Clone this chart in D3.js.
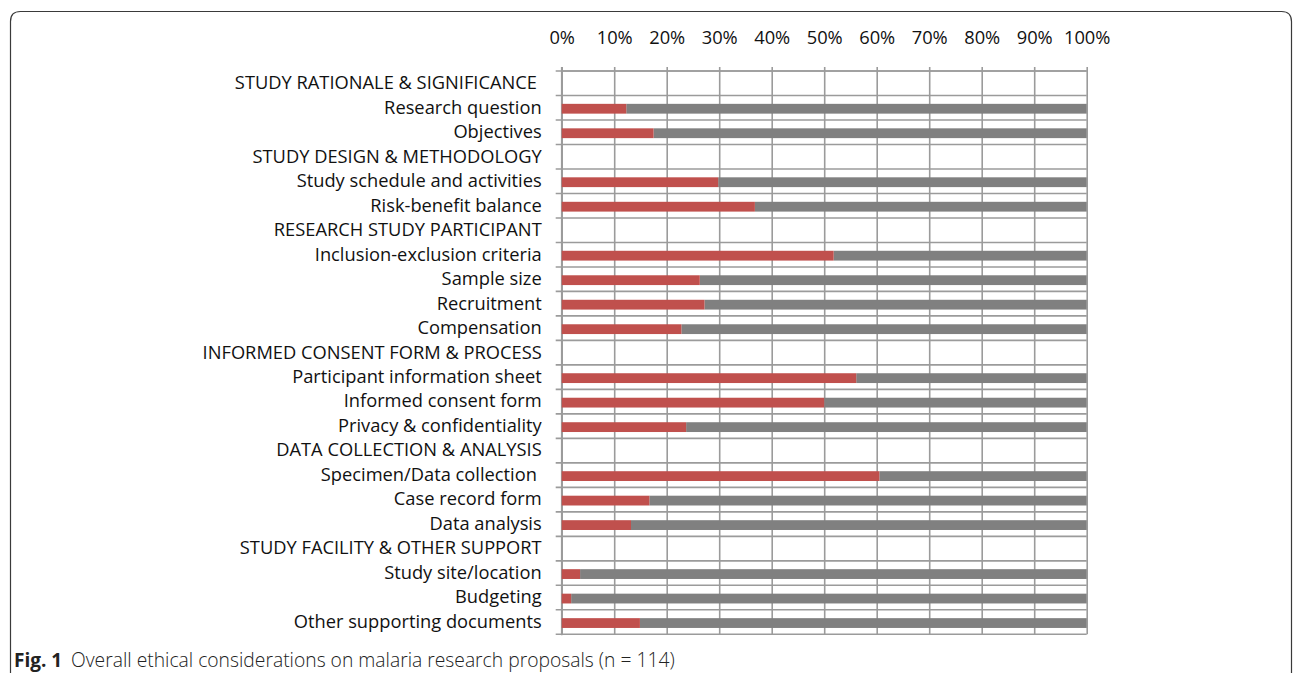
<!DOCTYPE html>
<html><head><meta charset="utf-8">
<script src="https://cdn.jsdelivr.net/npm/d3@7"></script>
<style>
html,body{margin:0;padding:0;background:#fff;}
svg{display:block;}
</style></head>
<body>
<svg id="chart" width="1293" height="673"></svg>
<script>
const categories = [
  "STUDY RATIONALE & SIGNIFICANCE ",
  "Research question",
  "Objectives",
  "STUDY DESIGN & METHODOLOGY",
  "Study schedule and activities",
  "Risk-benefit balance",
  "RESEARCH STUDY PARTICIPANT",
  "Inclusion-exclusion criteria",
  "Sample size",
  "Recruitment",
  "Compensation",
  "INFORMED CONSENT FORM & PROCESS",
  "Participant information sheet",
  "Informed consent form",
  "Privacy & confidentiality",
  "DATA COLLECTION & ANALYSIS",
  "Specimen/Data collection ",
  "Case record form",
  "Data analysis",
  "STUDY FACILITY & OTHER SUPPORT",
  "Study site/location",
  "Budgeting",
  "Other supporting documents"
];
const redValues  = [null,12.3,17.5,null,29.8,36.8,null,51.8,26.3,27.2,22.8,null,56.1,50.0,23.7,null,60.5,16.7,13.2,null,3.5,1.8,14.9];
const grayValues = [null,87.7,82.5,null,70.2,63.2,null,48.2,73.7,72.8,77.2,null,43.9,50.0,76.3,null,39.5,83.3,86.8,null,96.5,98.2,85.1];
const tickValues = [0,10,20,30,40,50,60,70,80,90,100];
const tickLabels = ["0%","10%","20%","30%","40%","50%","60%","70%","80%","90%","100%"];
const captionBold = "Fig. 1";
const captionText = "Overall ethical considerations on malaria research proposals (n = 114)";

(function(){
const svg = d3.select("#chart");
const pL = 561.7, pR = 1086.7, pT = 71, pB = 634.3;
const FONT = "'Open Sans', sans-serif";

svg.append("path")
  .attr("d", `M10.5,690 L10.5,21.5 Q10.5,11.5 20.5,11.5 L1281.5,11.5 Q1291.5,11.5 1291.5,21.5 L1291.5,690`)
  .attr("fill","none").attr("stroke","#3a3a3a").attr("stroke-width",1.2);

const x = d3.scaleLinear().domain([0,100]).range([pL,pR]);
const y = d3.scaleBand().domain(categories).range([pT,pB]).padding(0);
const bw = y.bandwidth();
const barH = bw*0.4;
const gridColor = "#9b9b9b";

const gv = svg.append("g").attr("transform",`translate(0,${pT})`)
  .call(d3.axisTop(x).tickValues(tickValues).tickSize(-(pB-pT)).tickFormat(""));
gv.select(".domain").remove();
gv.selectAll("line").attr("stroke",gridColor).attr("stroke-width",1.6);

const gt = svg.append("g").attr("transform",`translate(0,${pT})`)
  .call(d3.axisTop(x).tickValues(tickValues).tickSize(4).tickPadding(23)
        .tickFormat((d,i)=>tickLabels[i]));
gt.select(".domain").attr("stroke",gridColor).attr("stroke-width",1.6).attr("d",`M${pL},0H${pR}`);
gt.selectAll("line").attr("stroke",gridColor).attr("stroke-width",1.6);
gt.selectAll("text").attr("font-family",FONT).attr("font-size",18.3).attr("fill","#111");

const bounds = categories.map(c=>y(c)).concat([pB]);
svg.append("g").selectAll("line").data(bounds).join("line")
  .attr("x1",pL-6).attr("x2",pR).attr("y1",d=>d).attr("y2",d=>d)
  .attr("stroke",gridColor).attr("stroke-width",1.6);

svg.append("line").attr("x1",pL).attr("x2",pL).attr("y1",pT-4).attr("y2",pB+1)
  .attr("stroke",gridColor).attr("stroke-width",1.6);

const rows = categories.map((c,i)=>({c, r:redValues[i], g:grayValues[i]})).filter(d=>d.r!==null);
const bars = svg.append("g");
bars.selectAll("rect.g").data(rows).join("rect").attr("class","g")
  .attr("x",d=>x(d.r)).attr("width",d=>x(d.r+d.g)-x(d.r))
  .attr("y",d=>y(d.c)+(bw-barH)/2+1).attr("height",barH).attr("fill","#808080");
bars.selectAll("rect.r").data(rows).join("rect").attr("class","r")
  .attr("x",x(0)).attr("width",d=>x(d.r)-x(0))
  .attr("y",d=>y(d.c)+(bw-barH)/2+1).attr("height",barH).attr("fill","#C0504D");

const gl = svg.append("g").attr("transform",`translate(${pL},0)`)
  .call(d3.axisLeft(y).tickSize(0).tickPadding(20));
gl.select(".domain").remove();
gl.selectAll("text").attr("font-family",FONT).attr("font-size",18.3).attr("fill","#111")
  .style("white-space","pre");

const cap = svg.append("text").attr("x",14).attr("y",667).attr("font-family",FONT)
  .attr("font-size",19.3).attr("fill","#222");
cap.append("tspan").attr("font-weight","bold").attr("font-size",19).text(captionBold);
cap.append("tspan").attr("x",71).attr("font-weight","300").text(captionText);
})();
</script>
</body></html>
